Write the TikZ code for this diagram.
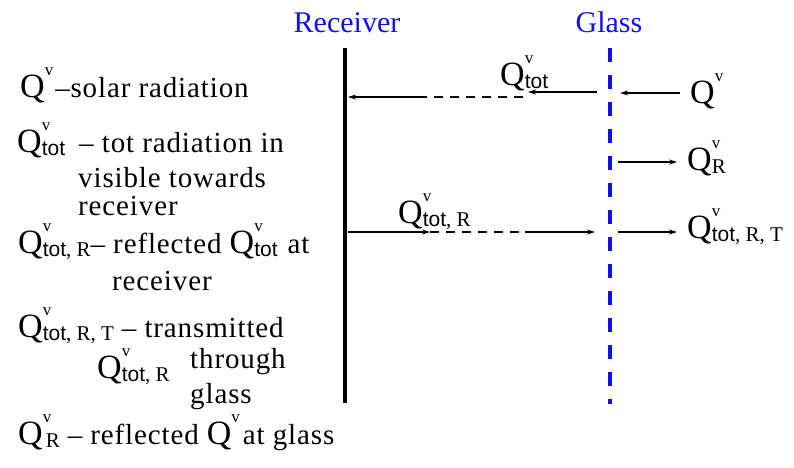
\documentclass[tikz,border=0pt]{standalone}
\usepackage{fontspec}
\setmainfont{Liberation Serif}
\setsansfont{Liberation Sans}
\newfontfamily\serifrm{Liberation Serif}
\newfontfamily\serifsp[LetterSpace=3]{Liberation Serif}
\usetikzlibrary{arrows.meta}
\definecolor{lblue}{RGB}{16,16,240}
\newcommand{\Qv}[1]{{\serifrm\fontsize{34}{34}\selectfont Q}\rlap{\raisebox{22pt}{\serifrm\fontsize{17}{17}\selectfont v}}\raisebox{-3pt}{\serifrm\fontsize{21}{21}\selectfont #1}}
\newcommand{\Qn}{{\serifrm\fontsize{34}{34}\selectfont Q}\raisebox{22pt}{\serifrm\fontsize{17}{17}\selectfont v}}
\newcommand{\tott}{\textsf{tot}}
\begin{document}
\begin{tikzpicture}[x=1pt,y=-1pt,
  txt/.style={anchor=base west,inner sep=0pt,font=\serifsp\fontsize{29}{29}\selectfont},
  lbl/.style={anchor=base,inner sep=0pt,font=\serifrm\fontsize{30}{30}\selectfont,text=lblue},
  ray/.style={line width=1.1pt,-{Stealth[length=8pt,width=5pt]}},
  raydash/.style={line width=1.1pt,dash pattern=on 9pt off 7pt}]
\useasboundingbox (0,0) rectangle (794,467);
% walls
\coordinate (rtop) at (345,48); \coordinate (rbot) at (345,403);
\coordinate (gtop) at (610,48); \coordinate (gbot) at (610,404);
\draw[line width=3.5pt] (rtop) -- (rbot);
\draw[line width=4pt,lblue,dash pattern=on 14pt off 13pt] (gtop) -- (gbot);
\node[lbl] (rlab) at (347,32) {Receiver};
\node[lbl] (glab) at (609,32) {Glass};
% top ray
\node[txt] (qin) at (690,103) {\Qn};
\node[txt] (qtot) at (500,85) {\Qv{\tott}};
\coordinate (a1) at (680,93); \coordinate (a2) at (620,93);
\coordinate (b1) at (597,92); \coordinate (b2) at (528,92);
\coordinate (c1) at (523,97); \coordinate (c2) at (420,97); \coordinate (c3) at (348,97);
\draw[ray] (a1) -- (a2);
\draw[ray] (b1) -- (b2);
\draw[raydash] (c1) -- (c2);
\draw[ray] (c2) -- (c3);
% reflected at glass
\node[txt] (qr) at (687,170) {\Qv{R}};
\coordinate (d1) at (618,162); \coordinate (d2) at (677,162);
\draw[ray] (d1) -- (d2);
% reflected at receiver
\node[txt] (qtr) at (398,223) {\Qv{\tott, R}};
\coordinate (e1) at (348,232); \coordinate (e2) at (430,232);
\coordinate (e3) at (525,232); \coordinate (e4) at (595,232);
\draw[ray] (e1) -- (e2);
\draw[raydash] (e2) -- (e3);
\draw[ray] (e3) -- (e4);
\node[txt] (qtrt) at (687,238) {\Qv{\tott, R, T}};
\coordinate (f1) at (618,232); \coordinate (f2) at (677,232);
\draw[ray] (f1) -- (f2);
% legend
\node[txt] (l1) at (20,97) {\Qn\hspace{2pt}–solar radiation};
\node[txt] (l2) at (17,152) {\Qv{\tott}\hspace{6pt} – tot radiation in};
\node[txt] (l3) at (78,187) {visible towards};
\node[txt] (l4) at (78,215) {receiver};
\node[txt] (l5) at (18,253) {\Qv{\tott, R}– reflected \Qv{\tott}\hspace{10pt}at};
\node[txt] (l6) at (112,290) {receiver};
\node[txt] (l7) at (18,337) {\Qv{\tott, R, T}\hspace{8pt}– transmitted};
\node[txt] (l8) at (97,378) {\Qv{\tott, R}};
\node[txt] (l8b) at (190,368) {through};
\node[txt] (l9) at (190,403) {glass};
\node[txt] (l10) at (18,444) {\Qv{\hspace{3pt}R}\hspace{8pt}– reflected \Qn\hspace{3pt}at glass};
\end{tikzpicture}
\end{document}
